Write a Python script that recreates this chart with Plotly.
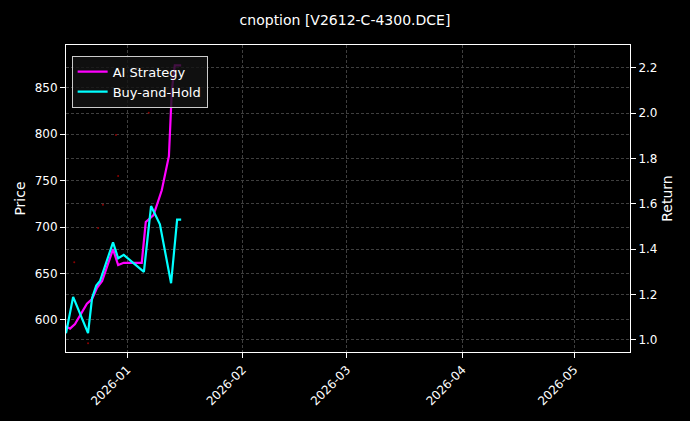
import plotly.graph_objects as go

ai_dates = ["2025-12-15 14:00","2025-12-16 16:00","2025-12-18 00:00","2025-12-21 05:00","2025-12-22 14:00",
            "2025-12-23 22:00","2025-12-25 07:00","2025-12-28 05:00","2025-12-29 14:00","2025-12-31 02:00",
            "2026-01-02 05:00","2026-01-04 22:00","2026-01-06 00:00","2026-01-08 02:00","2026-01-10 07:00",
            "2026-01-12 05:00","2026-01-13 00:00","2026-01-13 19:00","2026-01-15 12:00"]
ai_ret = [1.06,1.05,1.07,1.16,1.18,1.23,1.26,1.40,1.33,1.34,1.34,1.34,1.52,1.55,1.66,1.81,2.10,2.21,2.21]
bh_dates = ["2025-12-15 14:00","2025-12-17 12:00","2025-12-21 12:00","2025-12-22 14:00","2025-12-23 17:00",
            "2025-12-24 17:00","2025-12-28 05:00","2025-12-29 14:00","2025-12-31 02:00","2026-01-05 12:00",
            "2026-01-07 10:00","2026-01-09 19:00","2026-01-12 19:00","2026-01-14 10:00","2026-01-15 12:00"]
bh_ret = [1.03,1.19,1.03,1.185,1.24,1.26,1.43,1.36,1.375,1.30,1.59,1.51,1.25,1.53,1.53]
px_dates = ["2025-12-17 19:00","2025-12-21 12:00","2025-12-24 05:00","2025-12-25 12:00","2025-12-29 00:00",
            "2025-12-29 14:00","2026-01-06 19:00"]
px_vals = [662,575,699,724,799,755,823]

fig = go.Figure()
fig.add_trace(go.Scatter(x=px_dates, y=px_vals, mode="markers", marker=dict(color="#8b0000", size=2),
                         showlegend=False, yaxis="y"))
fig.add_trace(go.Scatter(x=ai_dates, y=ai_ret, mode="lines", name="AI Strategy",
                         line=dict(color="#ff00ff", width=2.2), yaxis="y2"))
fig.add_trace(go.Scatter(x=bh_dates, y=bh_ret, mode="lines", name="Buy-and-Hold",
                         line=dict(color="#00ffff", width=2.2), yaxis="y2"))

grid = dict(showgrid=True, gridcolor="#3f3f3f", griddash="3px,2px", gridwidth=0.6)
fig.update_layout(
    width=690, height=421, paper_bgcolor="black", plot_bgcolor="black",
    font=dict(family="DejaVu Sans", color="white", size=12),
    title=dict(text="cnoption [V2612-C-4300.DCE]", x=0.5, xanchor="center", y=0.965, font=dict(size=14)),
    margin=dict(l=66, r=60, t=45, b=69, autoexpand=False),
    xaxis=dict(range=["2025-12-15 14:00", "2026-05-16"], tickvals=["2026-01-01","2026-02-01","2026-03-01","2026-04-01","2026-05-01"],
               ticktext=["2026-01","2026-02","2026-03","2026-04","2026-05"], tickangle=-45, automargin=False,
               showline=True, linecolor="white", mirror=True, ticks="outside", tickcolor="white", **grid),
    yaxis=dict(title=dict(text="Price", standoff=5), range=[565.5, 896], tickvals=[600,650,700,750,800,850],
               automargin=False, showline=True, linecolor="white", ticks="outside", tickcolor="white", zeroline=False, **grid),
    yaxis2=dict(title=dict(text="Return", standoff=5), range=[0.947, 2.30], overlaying="y", side="right",
                tickvals=[1.0,1.2,1.4,1.6,1.8,2.0,2.2], tickformat=".1f", showline=True, linecolor="white", automargin=False,
                ticks="outside", tickcolor="white", zeroline=False, **grid),
    legend=dict(x=0.01, y=0.965, xanchor="left", yanchor="top", bgcolor="rgba(20,20,20,0.8)",
                bordercolor="#ccc", borderwidth=1, font=dict(size=13), tracegroupgap=0),
)
fig.write_html("out.html", config={"displayModeBar": False},
               post_script="document.body.style.margin='0';document.body.style.background='black';")
